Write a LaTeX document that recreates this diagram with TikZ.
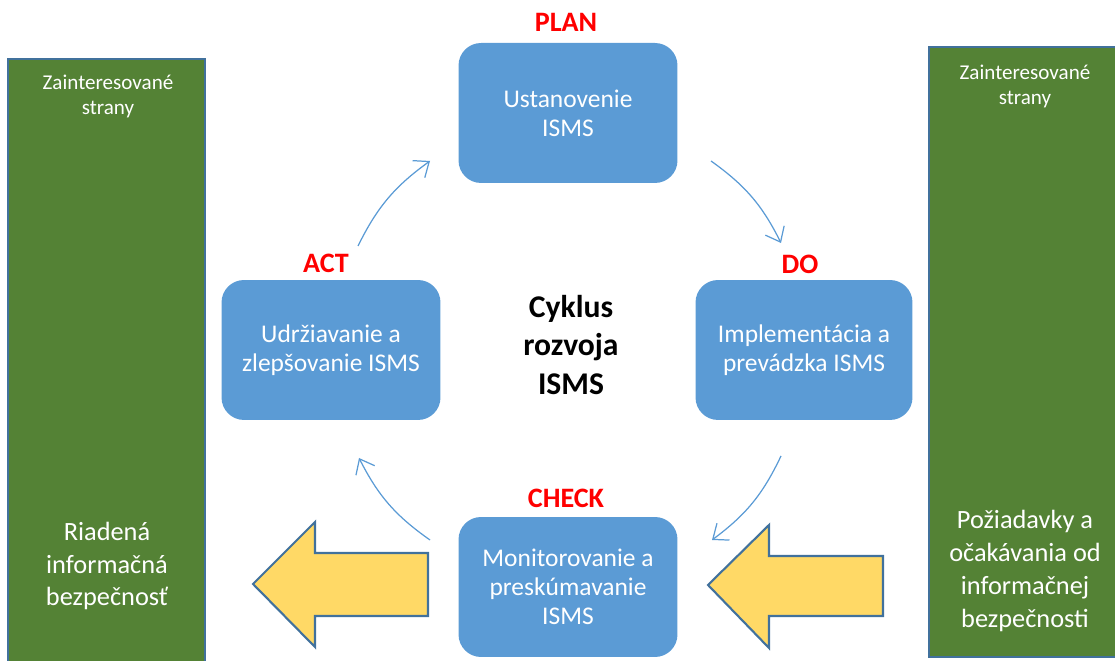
\documentclass[tikz,border=0pt]{standalone}
\usepackage{fontspec}
\setmainfont{Carlito}
\usetikzlibrary{arrows.meta}
\definecolor{boxblue}{HTML}{5B9BD5}
\definecolor{edgeblue}{HTML}{41719C}
\definecolor{panelgreen}{HTML}{548235}
\definecolor{arrowyellow}{HTML}{FFD966}
\tikzset{
  box/.style={fill=boxblue, rounded corners=0.45cm, minimum width=4.38cm,
    minimum height=2.8cm, align=center, text=white,
    font=\fontsize{14.5}{16.6}\selectfont},
  phase/.style={text=red, font=\fontsize{16}{19}\selectfont\bfseries},
  panel/.style={fill=panelgreen, draw=edgeblue, line width=0.8pt},
  smalltext/.style={text=white, align=center, font=\fontsize{12}{14.2}\selectfont},
  paneltext/.style={text=white, align=center, font=\fontsize{15}{18.7}\selectfont},
  bigarrow/.style={fill=arrowyellow, draw=edgeblue, line width=1.2pt, line join=miter},
  cyc/.style={draw=boxblue, line width=0.7pt,
    -{Straight Barb[length=2.6mm, width=4.2mm]}, bend left=14}
}
\begin{document}
\begin{tikzpicture}[x=0.02cm, y=0.02cm]
\useasboundingbox (0,0) rectangle (1115,661);
% zelene bocne panely (presahuju okraj)
\draw[panel] (8,-10) rectangle (205,602);
\draw[panel] (929,4) rectangle (1130,614);
\node[smalltext] (lefttop) at (108,565) {Zainteresované\\strany};
\node[smalltext] (righttop) at (1025,575) {Zainteresované\\strany};
\node[paneltext] (leftbot) at (107,95) {Riadená\\informačná\\bezpečnosť};
\node[paneltext] (rightbot) at (1025,90) {Požiadavky a\\očakávania od\\informačnej\\bezpečnosti};
% PDCA boxy
\node[box] (plan) at (568,548) {Ustanovenie\\ISMS};
\node[box] (act) at (331,311) {Udržiavanie a\\zlepšovanie ISMS};
\node[box, minimum width=4.34cm] (do) at (804,311) {Implementácia a\\prevádzka ISMS};
\node[box] (check) at (568,74) {Monitorovanie a\\preskúmavanie\\ISMS};
\node[phase] (planlbl) at (566,639) {PLAN};
\node[phase] (dolbl) at (800,397) {DO};
\node[phase] (checklbl) at (566,163) {CHECK};
\node[phase] (actlbl) at (326,398) {ACT};
\node[align=center, font=\fontsize{18}{21.8}\selectfont\bfseries] (cyklus) at (571,316)
  {Cyklus\\rozvoja\\ISMS};
% oblukove sipky cyklu
\coordinate (a1) at (358,415); \coordinate (a2) at (430,500);
\coordinate (p1) at (711,500); \coordinate (p2) at (781,418);
\coordinate (d1) at (781,205); \coordinate (d2) at (712,121);
\coordinate (c1) at (430,121); \coordinate (c2) at (359,203);
\draw[cyc] (a1) to (a2);
\draw[cyc] (p1) to (p2);
\draw[cyc] (d1) to (d2);
\draw[cyc] (c1) to (c2);
% zlte sipky
\draw[bigarrow] (253,77) -- (315,139) -- (315,108) -- (428,108) -- (428,45)
  -- (315,45) -- (315,14) -- cycle;
\draw[bigarrow] (708,76) -- (769,136) -- (769,105) -- (883,105) -- (883,45)
  -- (769,45) -- (769,13) -- cycle;
\end{tikzpicture}
\end{document}
